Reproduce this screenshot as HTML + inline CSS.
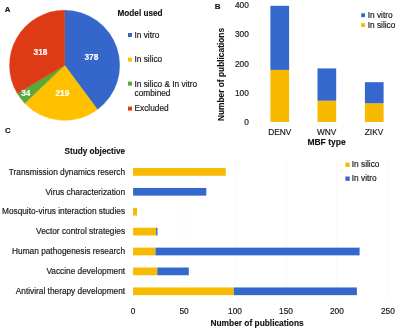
<!DOCTYPE html>
<html><head><meta charset="utf-8">
<style>
html,body{margin:0;padding:0;background:#fff;}
body{width:400px;height:330px;overflow:hidden;}
svg{display:block;will-change:transform;font-family:"Liberation Sans",sans-serif;}
.t{font-size:8.3px;fill:#1a1a1a;stroke:#1a1a1a;stroke-width:0.18px;}
.b{font-weight:bold;fill:#111;stroke:#111;stroke-width:0.12px;}
.w{font-weight:bold;fill:#fff;stroke:#fff;stroke-width:0.15px;font-size:8.3px;}
</style></head>
<body>
<svg width="400" height="330" viewBox="0 0 400 330">
<rect width="400" height="330" fill="#fff"/>
<!-- Panel A -->
<text x="4.7" y="12.0" class="b" font-size="7.8">A</text>
<path d="M64.6,65.3 L64.60,10.30 A55.0,55.0 0 0 1 97.40,109.45 Z" fill="#3466cc" stroke="#3466cc" stroke-width="0.5" stroke-linejoin="round"/>
<path d="M64.6,65.3 L97.40,109.45 A55.0,55.0 0 0 1 24.72,103.18 Z" fill="#ffc000" stroke="#ffc000" stroke-width="0.5" stroke-linejoin="round"/>
<path d="M64.6,65.3 L24.72,103.18 A55.0,55.0 0 0 1 17.27,93.32 Z" fill="#5aa83a" stroke="#5aa83a" stroke-width="0.5" stroke-linejoin="round"/>
<path d="M64.6,65.3 L17.27,93.32 A55.0,55.0 0 0 1 64.60,10.30 Z" fill="#de3a16" stroke="#de3a16" stroke-width="0.5" stroke-linejoin="round"/>
<text x="91.35" y="59.75" class="w" text-anchor="middle">378</text>
<text x="40.5" y="54.75" class="w" text-anchor="middle">318</text>
<text x="25.8" y="95.5" class="w" text-anchor="middle">34</text>
<text x="62.4" y="95.9" class="w" text-anchor="middle">219</text>
<text x="117.5" y="15.6" class="b" font-size="8.2">Model used</text>
<rect x="128" y="33" width="4" height="4" fill="#3466cc"/>
<rect x="128" y="57.6" width="4" height="4" fill="#ffc000"/>
<rect x="128" y="81.6" width="4" height="4" fill="#5aa83a"/>
<rect x="128" y="106.6" width="4" height="4" fill="#de3a16"/>
<text x="134.5" y="37.8" class="t">In vitro</text>
<text x="134.5" y="62" class="t">In silico</text>
<text x="134.5" y="86.6" class="t">In silico &amp; In vitro</text>
<text x="134.5" y="95.6" class="t">combined</text>
<text x="134.5" y="110.6" class="t">Excluded</text>

<!-- Panel B -->
<text x="214.8" y="9.4" class="b" font-size="8">B</text>
<g class="t" text-anchor="end">
<text x="248.8" y="8.1">400</text>
<text x="248.8" y="37.3">300</text>
<text x="248.8" y="66.5">200</text>
<text x="248.8" y="95.7">100</text>
<text x="248.8" y="124.9">0</text>
</g>
<text transform="translate(224.1,74.5) rotate(-90)" class="b" font-size="8.35" text-anchor="middle">Number of publications</text>
<rect x="270.4" y="69.9" width="18.7" height="52.1" fill="#f7ba00"/>
<rect x="270.4" y="5.8" width="18.7" height="64.1" fill="#3568cc"/>
<rect x="317.5" y="100.7" width="18.7" height="21.3" fill="#f7ba00"/>
<rect x="317.5" y="68.4" width="18.7" height="32.3" fill="#3568cc"/>
<rect x="364.9" y="103.3" width="18.7" height="18.7" fill="#f7ba00"/>
<rect x="364.9" y="82.2" width="18.7" height="21.1" fill="#3568cc"/>
<g class="t" text-anchor="middle">
<text x="279.8" y="134.9">DENV</text>
<text x="326.6" y="134.9">WNV</text>
<text x="374" y="134.9">ZIKV</text>
</g>
<text x="326.5" y="144.8" class="b" font-size="8.5" text-anchor="middle">MBF type</text>
<rect x="361.2" y="13.3" width="3.8" height="3.8" fill="#3568cc"/>
<rect x="361.2" y="23.2" width="3.8" height="3.8" fill="#f7ba00"/>
<text x="367.7" y="17.7" class="t">In vitro</text>
<text x="367.7" y="27.7" class="t">In silico</text>

<!-- Panel C -->
<text x="5.0" y="133.2" class="b" font-size="7.8">C</text>
<text x="64.6" y="153.5" class="b" font-size="8.2">Study objective</text>
<g stroke="#f0f0f0" stroke-width="0.5">
<line x1="184.05" y1="160" x2="184.05" y2="299"/>
<line x1="235" y1="160" x2="235" y2="299"/>
<line x1="285.95" y1="160" x2="285.95" y2="299"/>
<line x1="336.9" y1="160" x2="336.9" y2="299"/>
<line x1="387.85" y1="160" x2="387.85" y2="299"/>
</g>
<g class="t" text-anchor="end">
<text x="125.1" y="174.6">Transmission dynamics reserch</text>
<text x="125.1" y="194.5">Virus characterization</text>
<text x="125.1" y="214.4">Mosquito-virus interaction studies</text>
<text x="125.1" y="234.3">Vector control strategies</text>
<text x="125.1" y="254.2">Human pathogenesis research</text>
<text x="125.1" y="274.1">Vaccine development</text>
<text x="125.1" y="294.0">Antiviral therapy development</text>
</g>
<!-- bars -->
<rect x="133.1" y="168.05" width="92.7" height="7.7" fill="#f7ba00"/>
<rect x="133.1" y="187.95" width="73.2" height="7.7" fill="#3568cc"/>
<rect x="133.1" y="207.85" width="3.9" height="7.7" fill="#f7ba00"/>
<rect x="133.1" y="227.75" width="23.0" height="7.7" fill="#f7ba00"/>
<rect x="156.1" y="227.75" width="1.4" height="7.7" fill="#3568cc"/>
<rect x="133.1" y="247.65" width="22.4" height="7.7" fill="#f7ba00"/>
<rect x="155.5" y="247.65" width="204.1" height="7.7" fill="#3568cc"/>
<rect x="133.1" y="267.55" width="24.2" height="7.7" fill="#f7ba00"/>
<rect x="157.3" y="267.55" width="31.5" height="7.7" fill="#3568cc"/>
<rect x="133.1" y="287.45" width="100.7" height="7.7" fill="#f7ba00"/>
<rect x="233.8" y="287.45" width="123.1" height="7.7" fill="#3568cc"/>
<g class="t" text-anchor="middle">
<text x="133.1" y="313.75">0</text>
<text x="184.05" y="313.75">50</text>
<text x="235" y="313.75">100</text>
<text x="285.95" y="313.75">150</text>
<text x="336.9" y="313.75">200</text>
<text x="387.85" y="313.75">250</text>
</g>
<text x="257.1" y="326.25" class="b" font-size="8.35" text-anchor="middle">Number of publications</text>
<rect x="345.4" y="162.6" width="4.3" height="4.3" fill="#f7ba00"/>
<rect x="345.4" y="176.5" width="4.3" height="4.3" fill="#3568cc"/>
<text x="351.8" y="167.2" class="t">In silico</text>
<text x="351.8" y="181" class="t">In vitro</text>
</svg>
</body></html>
